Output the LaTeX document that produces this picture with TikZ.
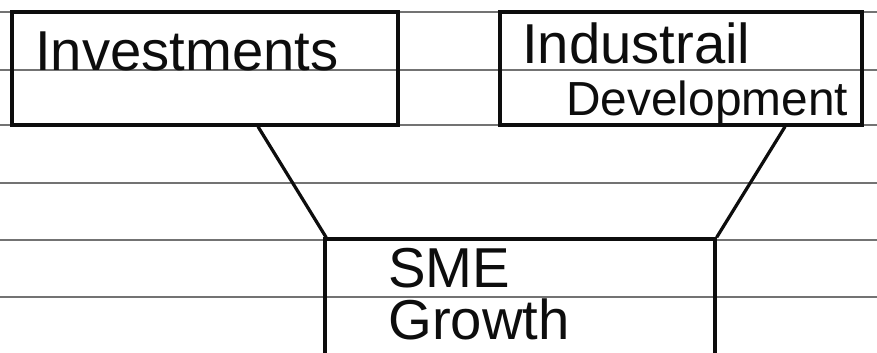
\documentclass[tikz,border=0pt]{standalone}
\usepackage{fontspec}
\setmainfont{Liberation Sans}
\usepackage{tikz}
\usetikzlibrary{positioning}
\definecolor{inkcolor}{rgb}{0.05,0.05,0.05}
\definecolor{rulecolor}{rgb}{0.45,0.45,0.45}
\tikzset{
  box/.style={draw=inkcolor, line width=2.3pt, minimum height=2.825cm, inner sep=0pt},
  txt/.style={font=\fontsize{40}{37}\selectfont, text=inkcolor, align=left, inner sep=0pt},
  link/.style={draw=inkcolor, line width=2.3pt},
  paper/.style={draw=rulecolor, line width=0.8pt},
}

\begin{document}
\begin{tikzpicture}[x=0.025cm, y=-0.025cm]
\clip (0,0) rectangle (877,353);
\fill[white] (0,0) rectangle (877,353);
% ruled sheet
\foreach \ry in {12,70,125,183,240,297}
  \draw[paper] (0,\ry) -- (877,\ry);
\node[box, minimum width=9.65cm] (inv) at (205,68.5) {};
\node[box, minimum width=9.05cm] (ind) at (681,68.5) {};
\node[box, minimum width=9.75cm, minimum height=3.55cm] (sme) at (520,310) {};
\node[txt, anchor=north west] (invtext) at (35,32) {Investments};
\node[txt, anchor=north west] (indtext) at (522,22)
  {Industrail\\\hspace{1.1cm}{\fontsize{34}{37}\selectfont Development}};
\node[txt, anchor=north west] (smetext) at (388,248) {SME\\Growth};
\draw[link] ([xshift=1.325cm]inv.south) -- ([xshift=0.07cm]sme.north west);
\draw[link] ([xshift=2.6cm]ind.south) -- (sme.north east);
\end{tikzpicture}
\end{document}
